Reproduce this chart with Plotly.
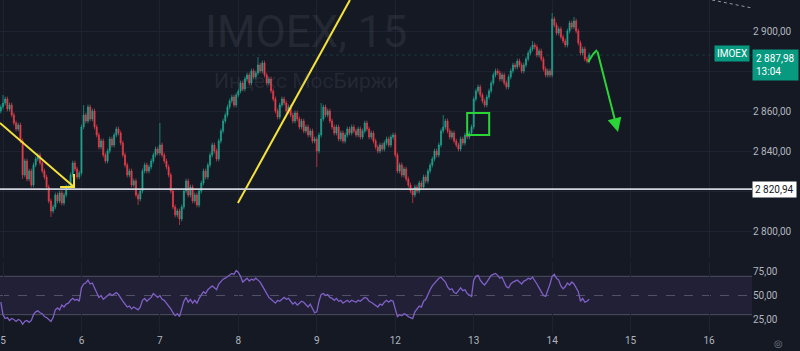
import plotly.graph_objects as go

# ---------------- DATA (15-min bars, x = bar index, 36 bars per trading day) ----------------
FIRST_IDX = -1
FIRST_OPEN = 2860

close_d4 = [2862]
close_d5 = [2864, 2866, 2861, 2863, 2858, 2854, 2851, 2853, 2845, 2828,
            2835, 2826, 2830, 2823, 2833, 2836, 2838, 2834, 2830, 2827,
            2822, 2815, 2810, 2812, 2818, 2815, 2819, 2814, 2818, 2822,
            2822, 2828, 2834, 2831, 2827, 2829]
close_d6 = [2852, 2858, 2855, 2862, 2856, 2860, 2852, 2848, 2842, 2845,
            2838, 2835, 2840, 2846, 2843, 2848, 2851, 2849, 2844, 2838,
            2833, 2828, 2830, 2823, 2825, 2818, 2816, 2820, 2830, 2833,
            2830, 2832, 2835, 2838, 2841, 2839]
close_d7 = [2843, 2838, 2835, 2832, 2828, 2820, 2812, 2808, 2810, 2806,
            2812, 2820, 2825, 2818, 2822, 2815, 2818, 2813, 2820, 2824,
            2830, 2827, 2833, 2838, 2843, 2840, 2836, 2845, 2850, 2855,
            2858, 2862, 2865, 2867, 2863, 2868]
close_d8 = [2870, 2874, 2871, 2876, 2878, 2874, 2880, 2877, 2879, 2883,
            2880, 2884, 2878, 2874, 2876, 2870, 2866, 2860, 2857, 2863,
            2866, 2864, 2860, 2862, 2858, 2855, 2859, 2856, 2852, 2855,
            2850, 2852, 2848, 2850, 2845, 2846]
close_d9 = [2840, 2848, 2856, 2862, 2858, 2860, 2855, 2852, 2849, 2852,
            2846, 2849, 2845, 2848, 2851, 2849, 2852, 2850, 2848, 2851,
            2847, 2850, 2854, 2851, 2847, 2849, 2845, 2842, 2840, 2843,
            2841, 2844, 2846, 2843, 2847, 2848]
close_d12 = [2838, 2830, 2833, 2828, 2831, 2826, 2823, 2820, 2818, 2822,
             2820, 2824, 2822, 2827, 2825, 2830, 2833, 2836, 2840, 2838,
             2843, 2850, 2852, 2855, 2850, 2847, 2849, 2845, 2843, 2841,
             2846, 2844, 2848, 2847, 2849, 2852]
close_d13 = [2866, 2870, 2872, 2868, 2865, 2863, 2867, 2870, 2874, 2878,
             2880, 2879, 2876, 2878, 2874, 2872, 2877, 2880, 2883, 2882,
             2885, 2883, 2880, 2883, 2886, 2889, 2891, 2893, 2892, 2888,
             2890, 2886, 2881, 2878, 2880, 2878]
close_d14 = [2906, 2903, 2899, 2901, 2897, 2895, 2893, 2900, 2904, 2902,
             2905, 2900, 2894, 2889, 2891, 2886, 2885, 2887.98]

# long wicks (bar index -> price)
HIGH_WICKS = {0: 2868, 37: 2863, 72: 2854, 117: 2887, 146: 2864, 202: 2858,
              243: 2895, 252: 2909, 262: 2907}
LOW_WICKS = {22: 2807, 62: 2813, 81: 2803, 144: 2832, 188: 2814, 9: 2826}
WICK_PAD = 1.2

rsi_d5 = [43, 30, 26, 27, 24, 26, 25, 23, 25, 24, 20, 23, 24, 22, 24, 30, 33,
          34, 32, 31, 28, 27, 25, 23, 27, 35, 37, 35, 40, 38, 41, 42, 45, 47,
          45, 46, 44]
rsi_d6 = [58, 62, 63, 66, 62, 63, 58, 52, 48, 50, 46, 48, 50, 52, 50, 52, 53,
          51, 47, 44, 41, 38, 39, 36, 38, 36, 35, 38, 45, 47, 44, 46, 48, 52,
          50, 48]
rsi_d7 = [50, 46, 45, 42, 40, 36, 32, 29, 31, 28, 36, 44, 48, 43, 46, 42, 45,
          42, 47, 50, 54, 52, 56, 58, 60, 58, 56, 62, 65, 67, 68, 70, 71, 73,
          72, 76]
rsi_d8 = [74, 70, 64, 66, 68, 65, 67, 66, 68, 66, 64, 60, 56, 52, 48, 46, 44,
          42, 45, 44, 46, 48, 46, 47, 44, 41, 43, 40, 42, 44, 43, 40, 38, 41,
          36, 32]
rsi_d9 = [33, 44, 51, 52, 50, 51, 48, 47, 45, 47, 44, 45, 42, 44, 45, 43, 45,
          44, 43, 45, 44, 46, 48, 47, 44, 43, 41, 39, 38, 41, 40, 43, 45, 43,
          45, 44]
rsi_d12 = [36, 28, 30, 29, 31, 30, 28, 27, 26, 33, 36, 39, 38, 44, 46, 52, 56,
           60, 63, 66, 68, 69, 66, 64, 59, 56, 57, 53, 52, 55, 58, 55, 56, 52,
           50, 49]
rsi_d13 = [66, 70, 71, 66, 63, 61, 64, 67, 71, 72, 73, 71, 68, 69, 64, 59, 58,
           62, 64, 65, 66, 64, 62, 65, 66, 68, 67, 69, 66, 62, 58, 54, 50, 49,
           55, 62]
rsi_d14 = [70, 72, 68, 66, 60, 57, 59, 63, 61, 64, 62, 58, 54, 44, 47, 43, 44, 46]

DAY_TICKS = [0, 36, 72, 108, 144, 180, 216, 252, 288, 324]
DAY_LABELS = ["5", "6", "7", "8", "9", "12", "13", "14", "15", "16"]
PRICE_TICKS = [2800, 2820, 2840, 2860, 2880, 2900]
PRICE_LABELS = ["2 800,00", "", "2 840,00", "2 860,00", "", "2 900,00"]
RSI_TICKS = [25, 50, 75]
RSI_LABELS = ["25,00", "50,00", "75,00"]

LEVEL_PRICE = 2820.94
LAST_PRICE = 2887.98

# drawings (bar index, price)
YELLOW_ARROW = {"x": [-1.4, 32.6], "y": [2854, 2822]}
YELLOW_HEAD = {"x": [26.2, 32.6, 32.6], "y": [2822, 2822, 2828.5]}
YELLOW_LINE = {"x": [107.8, 159.2], "y": [2814, 2915.5]}
GREEN_BOX = {"x": [213.0, 223.1], "y": [2848, 2859]}
GREEN_HOOK = {"x": [268.5, 270.8, 272.6], "y": [2884.5, 2888.5, 2890.5]}
GREEN_ARROW_TIP = (282.2, 2849.5)
DASHED_LINE = {"x": [325.4, 343.7], "y": [2915.5, 2911.5]}

# ---------------- BUILD ----------------
closes = close_d4 + close_d5 + close_d6 + close_d7 + close_d8 + close_d9 + close_d12 + close_d13 + close_d14
xs = list(range(FIRST_IDX, FIRST_IDX + len(closes)))
opens = [FIRST_OPEN] + closes[:-1]
highs, lows = [], []
for i, o, c in zip(xs, opens, closes):
    h = max(o, c) + WICK_PAD
    l = min(o, c) - WICK_PAD
    if i in HIGH_WICKS:
        h = max(h, HIGH_WICKS[i])
    if i in LOW_WICKS:
        l = min(l, LOW_WICKS[i])
    highs.append(h)
    lows.append(l)

rsi = rsi_d5 + rsi_d6 + rsi_d7 + rsi_d8 + rsi_d9 + rsi_d12 + rsi_d13 + rsi_d14
rsi_x = list(range(FIRST_IDX, FIRST_IDX + len(rsi)))

BG = "#151924"
GRID = "#1f2331"
UP = "#1fa58f"
DN = "#ea3d4b"
TXT = "#b2b5be"
YEL = "#f5e23a"
GRN = "#2bd437"
FONT = "Roboto"

XMIN, XMAX = -1.377, 343.7

fig = go.Figure()

fig.add_trace(go.Candlestick(
    x=xs, open=opens, high=highs, low=lows, close=closes,
    increasing=dict(line=dict(color=UP, width=0.7), fillcolor=UP),
    decreasing=dict(line=dict(color=DN, width=0.7), fillcolor=DN),
    whiskerwidth=0, showlegend=False, hoverinfo="skip", xaxis="x", yaxis="y"))

fig.add_trace(go.Scatter(x=rsi_x, y=rsi, mode="lines",
                         line=dict(color="#8060c6", width=1.3),
                         showlegend=False, hoverinfo="skip", xaxis="x2", yaxis="y2"))

# drawings on price pane
def line_trace(d, color, width=2, dash="solid"):
    return go.Scatter(x=d["x"], y=d["y"], mode="lines", line=dict(color=color, width=width, dash=dash),
                      showlegend=False, hoverinfo="skip", xaxis="x", yaxis="y", cliponaxis=True)

fig.add_trace(line_trace(YELLOW_ARROW, YEL))
fig.add_trace(line_trace(YELLOW_HEAD, YEL))
fig.add_trace(line_trace(YELLOW_LINE, YEL))
fig.add_trace(line_trace(GREEN_HOOK, GRN))
fig.add_trace(line_trace(DASHED_LINE, "#9598a1", width=1, dash="dot"))

shapes = []
# level line
shapes.append(dict(type="line", xref="x domain", x0=0, x1=1, yref="y", y0=LEVEL_PRICE, y1=LEVEL_PRICE,
                   line=dict(color="#d1d4dc", width=1.6), layer="above"))
# last price dotted line
shapes.append(dict(type="line", xref="x domain", x0=0, x1=1, yref="y", y0=LAST_PRICE, y1=LAST_PRICE,
                   line=dict(color="rgba(34,171,148,0.22)", width=1, dash="dot"), layer="below"))
# green rectangle
shapes.append(dict(type="rect", xref="x", yref="y", x0=GREEN_BOX["x"][0], x1=GREEN_BOX["x"][1],
                   y0=GREEN_BOX["y"][0], y1=GREEN_BOX["y"][1], line=dict(color=GRN, width=2),
                   fillcolor="rgba(0,0,0,0)", layer="above"))
# RSI band
shapes.append(dict(type="rect", xref="x2 domain", x0=0, x1=1, yref="y2", y0=30, y1=70,
                   fillcolor="rgba(126,87,194,0.12)", line=dict(width=0), layer="below"))
for lv, dash in [(70, "solid"), (30, "solid"), (50, "dash")]:
    shapes.append(dict(type="line", xref="x2 domain", x0=0, x1=1, yref="y2", y0=lv, y1=lv,
                       line=dict(color="rgba(120,123,134,0.55)", width=1, dash=dash), layer="below"))

annotations = [
    # watermark
    dict(text="IMOEX, 15", xref="paper", yref="paper", x=0.407, y=0.903, showarrow=False,
         font=dict(family=FONT, size=44, color="rgba(120,123,134,0.16)"), xanchor="center", yanchor="middle"),
    dict(text="Индекс МосБиржи", xref="paper", yref="paper", x=0.407, y=0.757, showarrow=False,
         font=dict(family=FONT, size=21, color="rgba(120,123,134,0.16)"), xanchor="center", yanchor="middle"),
    # green arrow
    dict(x=GREEN_ARROW_TIP[0], y=GREEN_ARROW_TIP[1], ax=GREEN_HOOK["x"][-1], ay=GREEN_HOOK["y"][-1],
         xref="x", yref="y", axref="x", ayref="y", showarrow=True, arrowhead=2, arrowsize=1.4,
         arrowwidth=2, arrowcolor=GRN, text=""),
    # level price label
    dict(text="2 820,94", xref="paper", x=1.0, xanchor="left", yref="y", y=LEVEL_PRICE, yanchor="middle",
         showarrow=False, bgcolor="#ffffff", font=dict(family=FONT, size=10, color="#131722"),
         borderpad=2, xshift=0),
    # symbol label
    dict(text="IMOEX", xref="paper", x=1.0, xanchor="right", xshift=-2, yref="y", y=LAST_PRICE + 0.6,
         yanchor="middle", showarrow=False, bgcolor="#089981",
         font=dict(family=FONT, size=10, color="#ffffff"), borderpad=2),
    # last price label
    dict(text="2 887,98<br>13:04", xref="paper", x=1.0, xanchor="left", yref="y", y=LAST_PRICE + 3.0,
         yanchor="top", align="left", showarrow=False, bgcolor="#089981",
         font=dict(family=FONT, size=10, color="#ffffff"), borderpad=3),
    # settings icon
    dict(text="◎", xref="paper", yref="paper", x=1.0, y=0, xanchor="left", yanchor="top", xshift=20, yshift=-3,
         showarrow=False, font=dict(family="DejaVu Sans", size=10, color="#787b86")),
]

fig.update_layout(
    width=800, height=351, margin=dict(l=0, r=48, t=0, b=18),
    paper_bgcolor=BG, plot_bgcolor=BG, showlegend=False,
    shapes=shapes, annotations=annotations,
    font=dict(family=FONT, size=10, color=TXT),
    xaxis=dict(domain=[0, 1], anchor="y", range=[XMIN, XMAX], tickvals=DAY_TICKS, showticklabels=False,
               showgrid=True, gridcolor=GRID, gridwidth=1, zeroline=False, showline=False,
               rangeslider=dict(visible=False), ticks=""),
    yaxis=dict(domain=[0.2252, 1], anchor="x", range=[2786.5, 2915.5], side="right",
               tickvals=PRICE_TICKS, ticktext=PRICE_LABELS, showgrid=True, gridcolor=GRID,
               zeroline=False, showline=False, ticks="", tickfont=dict(family=FONT, size=10, color=TXT)),
    xaxis2=dict(domain=[0, 1], anchor="y2", range=[XMIN, XMAX], tickvals=DAY_TICKS, ticktext=DAY_LABELS,
                showgrid=True, gridcolor=GRID, zeroline=False, showline=False, ticks="",
                tickfont=dict(family=FONT, size=10, color=TXT)),
    yaxis2=dict(domain=[0, 0.2132], anchor="x2", range=[10.9, 84.9], side="right",
                tickvals=RSI_TICKS, ticktext=RSI_LABELS, showgrid=False, zeroline=False,
                showline=False, ticks="", tickfont=dict(family=FONT, size=10, color=TXT)),
)

fig.write_html("out.html")
